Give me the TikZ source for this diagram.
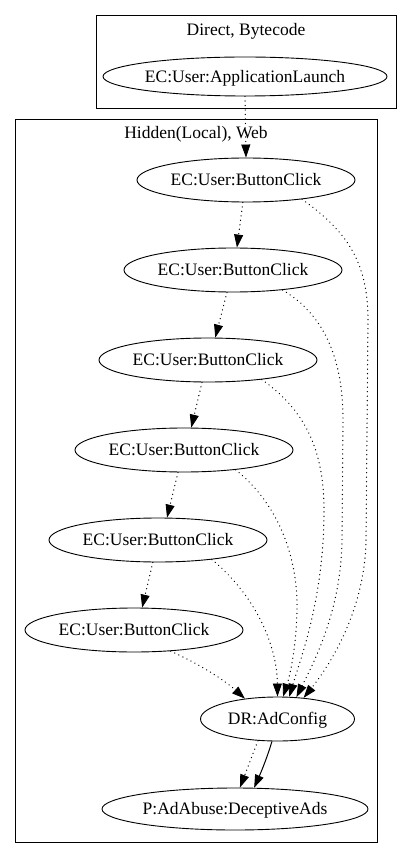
\documentclass[tikz,border=0pt]{standalone}
\usepackage{fontspec}
\setmainfont{Liberation Serif}
\usetikzlibrary{arrows.meta,shapes.geometric}
\newcommand\zc[1]{\makebox[0pt]{#1}}
\begin{document}
\begin{tikzpicture}[x=1pt,y=-1pt,
  every node/.style={font=\fontsize{17.5}{21}\selectfont, text height=11.6pt, text depth=0pt},
  evt/.style={draw, line width=0.9pt, ellipse, inner sep=0pt, minimum width=218pt, minimum height=44pt},
  clus/.style={draw, line width=0.9pt, rectangle, inner sep=0pt},
  dotedge/.style={line width=1.3pt, line cap=round, dash pattern=on 0.1pt off 4.4pt, -{Triangle[length=13pt,width=9pt,line width=0.8pt]}},
  soledge/.style={line width=1pt, -{Triangle[length=13pt,width=9pt]}},
]
\useasboundingbox (0,0) rectangle (411,858);

% clusters
\node[clus, minimum width=300pt, minimum height=93pt] (c1) at (246,61.5) {};
\node (l1) at (246,30) {Direct, Bytecode};
\node[clus, minimum width=362pt, minimum height=723pt] (c2) at (196,480.5) {};
\node (l2) at (196,133) {Hidden(Local), Web};

% nodes
\node[evt, minimum width=284pt, minimum height=39pt] (al) at (245,76.5) {\zc{EC:User:ApplicationLaunch}};
\node[evt] (bc1) at (246,180) {\zc{EC:User:ButtonClick}};
\node[evt] (bc2) at (233,270) {\zc{EC:User:ButtonClick}};
\node[evt] (bc3) at (208,360) {\zc{EC:User:ButtonClick}};
\node[evt] (bc4) at (184,450) {\zc{EC:User:ButtonClick}};
\node[evt] (bc5) at (158,540) {\zc{EC:User:ButtonClick}};
\node[evt] (bc6) at (134,630) {\zc{EC:User:ButtonClick}};
\node[evt, minimum width=154pt] (ad) at (277.5,719) {\zc{DR:AdConfig}};
\node[evt, minimum width=266pt, minimum height=42pt] (da) at (235,809) {\zc{P:AdAbuse:DeceptiveAds}};

% chain
\draw[dotedge] (al.south) -- (bc1.north);
\draw[dotedge] (bc1.-98) -- (bc2.80);
\draw[dotedge] (bc2.-105) -- (bc3.72);
\draw[dotedge] (bc3.-105) -- (bc4.72);
\draw[dotedge] (bc4.-105) -- (bc5.68);
\draw[dotedge] (bc5.-103) -- (bc6.70);

% to AdConfig
\draw[dotedge] (bc6.-30) .. controls (195,662) and (222,678) .. (ad.148);
\draw[dotedge] (bc5.-20) .. controls (250,590) and (277,640) .. (ad.north);
\draw[dotedge] (bc4.-21) .. controls (280,505) and (298,560) .. (297,610) .. controls (296,650) and (290,675) .. (ad.76);
\draw[dotedge] (bc3.-20) .. controls (305,410) and (324,450) .. (324,510) .. controls (324,600) and (300,660) .. (ad.62);
\draw[dotedge] (bc2.-22) .. controls (325,315) and (343,360) .. (343,420) -- (342,540) .. controls (341,610) and (315,660) .. (ad.49);
\draw[dotedge] (bc1.-19) .. controls (345,230) and (368,260) .. (368,320) -- (366,540) .. controls (365,610) and (330,665) .. (ad.39);

% to DeceptiveAds
\draw[dotedge] (ad.-132) -- (da.77);
\draw[soledge] (ad.-104) .. controls (268,755) and (262,770) .. (da.48);
\end{tikzpicture}
\end{document}
